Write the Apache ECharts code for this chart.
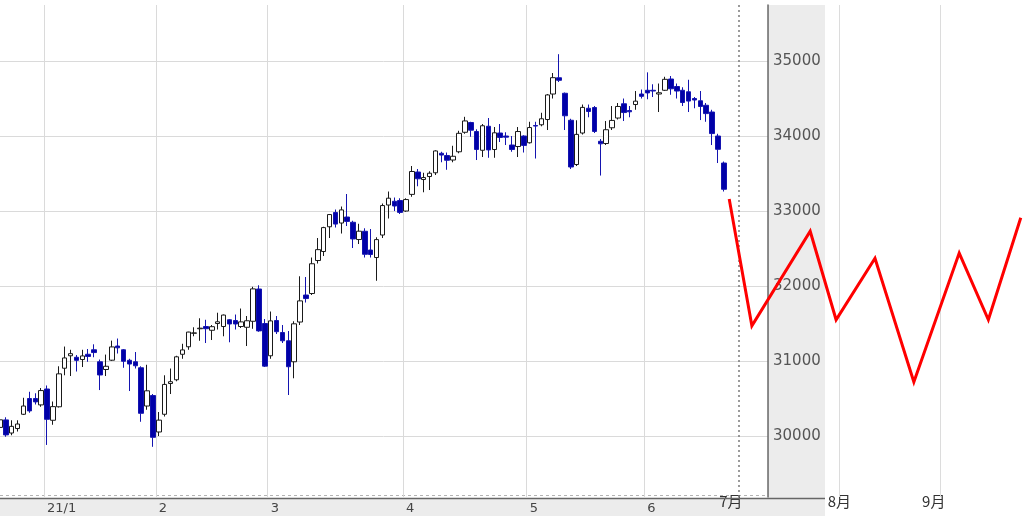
<!DOCTYPE html>
<html><head><meta charset="utf-8">
<script src="https://cdn.jsdelivr.net/npm/echarts@6/dist/echarts.min.js"></script>
<style>html,body{margin:0;padding:0;background:#fff}#c{width:1024px;height:516px}</style>
</head><body><div id="c"></div>
<script>
// Daily candles: [day, open, high, low, close]
const dec2020 = [
 [21, 30115, 30230, 29870, 30216],[22, 30215, 30250, 29990, 30015],[23, 30040, 30210, 30010, 30129],
 [24, 30100, 30210, 30060, 30160],[28, 30290, 30510, 30280, 30400],[29, 30500, 30590, 30310, 30335],
 [30, 30500, 30570, 30420, 30455],[31, 30415, 30640, 30390, 30606]
];
const jan2021 = [
 [4, 30627, 30674, 29881, 30223],[5, 30210, 30460, 30150, 30392],[6, 30390, 30930, 30380, 30829],
 [7, 30904, 31193, 30810, 31041],[8, 31070, 31150, 30800, 31098],[11, 31050, 31080, 30860, 31009],
 [12, 31020, 31150, 30920, 31068],[13, 31090, 31160, 30990, 31061],[14, 31150, 31223, 31050, 31113],
 [15, 30990, 31020, 30613, 30814],[19, 30887, 31086, 30800, 30930],[20, 31011, 31272, 31000, 31188],
 [21, 31200, 31300, 31100, 31176],[22, 31150, 31160, 30910, 30997],[25, 31010, 31030, 30600, 30960],
 [26, 30990, 31120, 30900, 30937],[27, 30910, 30930, 30190, 30303],[28, 30400, 30950, 30350, 30603],
 [29, 30540, 30560, 29856, 29983]
];
const feb2021 = [
 [1, 30054, 30320, 30000, 30212],[2, 30290, 30810, 30260, 30688],[3, 30700, 30900, 30560, 30724],
 [4, 30750, 31070, 30730, 31056],[5, 31090, 31230, 31030, 31148],[8, 31190, 31390, 31150, 31386],
 [9, 31370, 31450, 31330, 31375],[10, 31430, 31570, 31270, 31438],[11, 31460, 31550, 31240, 31431],
 [12, 31410, 31480, 31280, 31458],[16, 31500, 31644, 31420, 31523],[17, 31460, 31620, 31330, 31613],
 [18, 31550, 31560, 31250, 31494],[19, 31540, 31620, 31420, 31494],[22, 31460, 31700, 31440, 31522],
 [23, 31450, 31600, 31200, 31537],[24, 31530, 31990, 31430, 31962],[25, 31960, 32010, 31390, 31402],
 [26, 31500, 31560, 30920, 30932]
];
const mar2021 = [
 [1, 31070, 31660, 31030, 31535],[2, 31540, 31600, 31360, 31391],[3, 31380, 31480, 31240, 31270],
 [4, 31270, 31400, 30547, 30924],[5, 30990, 31530, 30770, 31496],[8, 31520, 32130, 31480, 31802],
 [9, 31880, 32120, 31780, 31833],[10, 31900, 32380, 31880, 32297],[11, 32340, 32640, 32300, 32485],
 [12, 32460, 32790, 32400, 32779],[15, 32790, 32960, 32640, 32953],[16, 32980, 33020, 32780, 32826],
 [17, 32840, 33060, 32700, 33015],[18, 32920, 33227, 32800, 32862],[19, 32850, 32870, 32507, 32628],
 [22, 32620, 32830, 32560, 32731],[23, 32730, 32770, 32380, 32423],[24, 32480, 32760, 32380, 32420],
 [25, 32380, 32650, 32070, 32619],[26, 32680, 33100, 32640, 33073],[29, 33080, 33260, 32900, 33171],
 [30, 33130, 33180, 33000, 33067],[31, 33140, 33170, 32960, 32982]
];
const apr2021 = [
 [1, 33000, 33170, 32990, 33153],[5, 33222, 33600, 33190, 33527],[6, 33520, 33560, 33330, 33430],
 [7, 33420, 33510, 33250, 33446],[8, 33460, 33530, 33280, 33504],[9, 33510, 33810, 33480, 33801],
 [12, 33770, 33790, 33650, 33746],[13, 33740, 33780, 33550, 33677],[14, 33680, 33870, 33650, 33730],
 [15, 33790, 34070, 33770, 34036],[16, 34050, 34256, 34030, 34201],[19, 34180, 34190, 33990, 34078],
 [20, 34060, 34090, 33680, 33821],[21, 33810, 34160, 33720, 34137],[22, 34130, 34240, 33710, 33815],
 [23, 33820, 34120, 33710, 34043],[26, 34040, 34160, 33920, 33981],[27, 34000, 34050, 33880, 33985],
 [28, 33880, 34000, 33790, 33820],[29, 33860, 34120, 33720, 34060],[30, 34000, 34010, 33780, 33875]
];
const may2021 = [
 [3, 33910, 34190, 33900, 34113],[4, 34140, 34190, 33700, 34133],[5, 34150, 34310, 34130, 34230],
 [6, 34220, 34560, 34080, 34548],[7, 34560, 34840, 34500, 34778],[10, 34777, 35091, 34720, 34743],
 [11, 34570, 34580, 34080, 34270],[12, 34210, 34230, 33560, 33587],[13, 33620, 34210, 33600, 34022],
 [14, 34040, 34420, 34020, 34382],[17, 34370, 34420, 34250, 34327],[18, 34380, 34400, 34040, 34061],
 [19, 33930, 33960, 33473, 33896],[20, 33900, 34200, 33880, 34084],[21, 34110, 34400, 34080, 34208],
 [24, 34240, 34440, 34220, 34394],[25, 34430, 34500, 34200, 34313],[26, 34340, 34400, 34250, 34323],
 [27, 34420, 34600, 34350, 34465],[28, 34560, 34620, 34500, 34529]
];
const jun2021 = [
 [1, 34610, 34849, 34490, 34575],[2, 34610, 34690, 34520, 34600],[3, 34560, 34700, 34320, 34577],
 [4, 34610, 34790, 34600, 34756],[7, 34760, 34800, 34550, 34630],[8, 34660, 34700, 34500, 34600],
 [9, 34610, 34650, 34400, 34447],[10, 34590, 34750, 34320, 34466],[11, 34500, 34520, 34370, 34480],
 [14, 34470, 34600, 34213, 34394],[15, 34410, 34440, 34190, 34299],[16, 34320, 34350, 33880, 34033],
 [17, 34000, 34030, 33640, 33823],[18, 33640, 33660, 33260, 33290]
];
// trading days after the last candle (empty slots on the axis)
const junRestDays = [21, 22, 23, 24, 25, 28, 29];

// Forecast line
const forecastDates = ['2021-06-28','2021-07-05','2021-07-23','2021-07-31','2021-08-12','2021-08-24','2021-09-07','2021-09-16','2021-09-26'];
const forecastValues = [33160, 31470, 32730, 31550, 32370, 30720, 32440, 31550, 32910];
const forecastMonthLabels = {0: '7月', 31: '8月', 62: '9月'};

const yMin = 29187, yMax = 35747;

const months = [['2020-12', dec2020], ['2021-01', jan2021], ['2021-02', feb2021], ['2021-03', mar2021],
                ['2021-04', apr2021], ['2021-05', may2021], ['2021-06', jun2021]];
const categories = [], candles = [];
months.forEach(([ym, arr]) => arr.forEach(([d, o, h, l, c]) => {
  categories.push(ym + '-' + String(d).padStart(2, '0'));
  candles.push([o, c, l, h]);
}));
junRestDays.forEach(d => categories.push('2021-06-' + String(d).padStart(2, '0')));
const monthStart = new Set();
categories.forEach((c, i) => { if (i > 0 && c.slice(0, 7) !== categories[i - 1].slice(0, 7)) monthStart.add(i); });
const isMonthStart = (i) => monthStart.has(i);

const base = Date.UTC(2021, 6, 1);
const forecast = forecastDates.map((d, i) => {
  const [y, m, dd] = d.split('-').map(Number);
  return [(Date.UTC(y, m - 1, dd) - base) / 864e5, forecastValues[i]];
});

const FONT = 'DejaVu Sans';
const chart = echarts.init(document.getElementById('c'));
chart.setOption({
  animation: false,
  backgroundColor: '#ffffff',
  grid: [
    {left: -3, right: 256, top: 5, bottom: 19, outerBoundsMode: 'none', containLabel: false},
    {left: 638.5, right: 0, top: 5, bottom: 19, outerBoundsMode: 'none', containLabel: false}
  ],
  graphic: [
    {type: 'rect', z: -1, shape: {x: 768, y: 5, width: 57, height: 511}, style: {fill: '#ececec'}},
    {type: 'rect', z: -1, shape: {x: 0, y: 498, width: 825, height: 18}, style: {fill: '#ececec'}},
    {type: 'line', z: -1, shape: {x1: 0, y1: 495.5, x2: 768, y2: 495.5}, style: {stroke: '#b4b4b4', lineWidth: 1, lineDash: [3, 3]}},
    {type: 'line', z: 5, shape: {x1: 0, y1: 498.5, x2: 825, y2: 498.5}, style: {stroke: '#666666', lineWidth: 1.5}}
  ],
  xAxis: [
    {
      type: 'category', gridIndex: 0, data: categories, boundaryGap: true,
      axisLine: {show: false}, axisTick: {show: false},
      axisLabel: {
        interval: (i) => isMonthStart(i), align: 'left', margin: 5,
        color: '#444', fontSize: 13, fontFamily: FONT,
        formatter: (v) => {
          const [y, m] = v.split('-');
          return m === '01' ? y.slice(2) + '/1' : String(Number(m));
        }
      },
      splitLine: {show: true, interval: (i) => isMonthStart(i), lineStyle: {color: '#dadada', width: 1}}
    },
    {
      type: 'value', gridIndex: 1, min: -31, max: 88, interval: 31,
      axisLine: {show: false}, axisTick: {show: false}, splitLine: {show: false},
      axisLabel: {
        margin: -3, color: '#333', fontSize: 15, fontFamily: 'Noto Sans CJK JP', showMaxLabel: false,
        formatter: (v) => forecastMonthLabels[v] ? '{m' + v + '|' + forecastMonthLabels[v] + '}' : '',
        rich: {
          m0: {padding: [0, 16, 0, 0], fontSize: 15, color: '#333', fontFamily: 'Noto Sans CJK JP'},
          m31: {padding: [0, 0, 0, 0], fontSize: 15, color: '#333', fontFamily: 'Noto Sans CJK JP'},
          m62: {padding: [0, 12, 0, 0], fontSize: 15, color: '#333', fontFamily: 'Noto Sans CJK JP'}
        }
      }
    }
  ],
  yAxis: [
    {
      type: 'value', gridIndex: 0, position: 'right', min: yMin, max: yMax, splitNumber: 5,
      axisLine: {show: true, lineStyle: {color: '#6a6a6a', width: 1.5}},
      axisTick: {show: false},
      axisLabel: {showMinLabel: false, showMaxLabel: false, color: '#555', fontSize: 15, margin: 5, fontFamily: FONT,
                  formatter: (v) => String(v)},
      splitLine: {show: true, showMinLine: false, showMaxLine: false, lineStyle: {color: '#dadada', width: 1}}
    },
    {type: 'value', gridIndex: 1, min: yMin, max: yMax, show: false}
  ],
  series: [
    {
      type: 'candlestick', xAxisIndex: 0, yAxisIndex: 0, data: candles, barWidth: 5,
      itemStyle: {color: '#ffffff', color0: '#0000a8', borderColor: '#1a1a1a', borderColor0: '#1414b0', borderWidth: 1}
    },
    {
      type: 'line', xAxisIndex: 1, yAxisIndex: 1, data: forecast, symbol: 'none', z: 10,
      lineStyle: {color: '#ff0000', width: 3, join: 'miter'},
      markLine: {
        silent: true, symbol: ['none', 'none'], label: {show: false}, animation: false,
        data: [
          {xAxis: 0, lineStyle: {color: '#7a7a7a', type: [2, 3], width: 1.5}},
          {xAxis: 31, lineStyle: {color: '#dcdcdc', type: 'solid', width: 1}},
          {xAxis: 62, lineStyle: {color: '#dcdcdc', type: 'solid', width: 1}}
        ]
      }
    }
  ]
});
</script>
</body></html>
